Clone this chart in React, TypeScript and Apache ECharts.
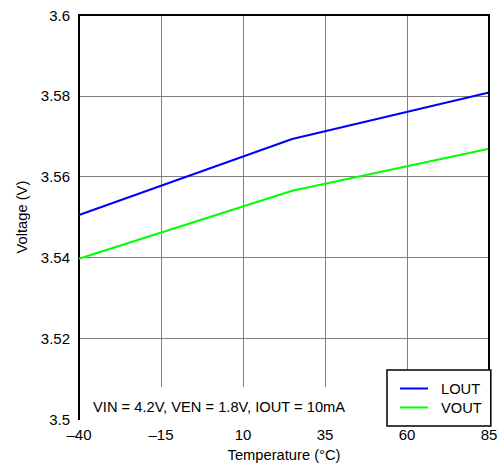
import React, { useEffect, useRef } from "react";
import * as echarts from "echarts";

const temps = [-40, 25, 85];
const lout = [3.5505, 3.5693, 3.5808];
const vout = [3.5397, 3.5565, 3.5669];
const seriesNames = ["LOUT", "VOUT"];
const seriesColors = ["#0000ff", "#00ff00"];
const annotation = "VIN = 4.2V, VEN = 1.8V, IOUT = 10mA";
const xTitle = "Temperature (°C)";
const yTitle = "Voltage (V)";

export default function App() {
  const ref = useRef<HTMLDivElement>(null);
  useEffect(() => {
    if (!ref.current) return;
    const chart = echarts.init(ref.current, null, { renderer: "svg" });
    const font = "'Liberation Sans', Arial, sans-serif";
    const seriesData = [lout, vout];
    const frameAxis = {
      type: "value",
      axisLine: { show: true, onZero: false, lineStyle: { color: "#000", width: 2 } },
      axisTick: { show: false },
      axisLabel: { show: false },
      splitLine: { show: false },
    };
    chart.setOption({
      animation: false,
      backgroundColor: "#fff",
      textStyle: { fontFamily: font },
      grid: {
        left: 79,
        top: 15,
        right: 14,
        bottom: 42,
        show: true,
        borderColor: "#000",
        borderWidth: 2,
        backgroundColor: "transparent",
      },
      xAxis: [
        {
          type: "value",
          min: -40,
          max: 85,
          interval: 25,
          name: xTitle,
          nameLocation: "middle",
          nameGap: 24,
          nameTextStyle: { fontFamily: font, fontSize: 14.7, color: "#000" },
          axisLine: { show: true, onZero: false, lineStyle: { color: "#000", width: 2 } },
          axisTick: { show: false },
          axisLabel: {
            fontFamily: font,
            fontSize: 15,
            color: "#000",
            margin: 8,
            formatter: (v: number) => (v < 0 ? "\u2013" + Math.abs(v) : String(v)),
          },
          splitLine: {
            show: true,
            showMinLine: false,
            showMaxLine: false,
            lineStyle: { color: "#808080", width: 1 },
          },
        },
        { ...frameAxis, position: "top", min: -40, max: 85, interval: 25, z: 10 },
      ],
      yAxis: [
        {
          type: "value",
          min: 3.5,
          max: 3.6,
          interval: 0.02,
          name: yTitle,
          nameLocation: "middle",
          nameGap: 49,
          nameTextStyle: { fontFamily: font, fontSize: 14.7, color: "#000" },
          axisLine: { show: true, onZero: false, lineStyle: { color: "#000", width: 2 } },
          axisTick: { show: false },
          axisLabel: {
            fontFamily: font,
            fontSize: 15,
            color: "#000",
            margin: 9,
            formatter: (v: number) => String(parseFloat(v.toFixed(2))),
          },
          splitLine: {
            show: true,
            showMinLine: false,
            showMaxLine: false,
            lineStyle: { color: "#808080", width: 1 },
          },
        },
        { ...frameAxis, position: "right", min: 3.5, max: 3.6, interval: 0.02, z: 10 },
      ],
      legend: {
        data: seriesNames,
        orient: "vertical",
        left: 387,
        top: 370,
        backgroundColor: "#fff",
        borderColor: "#000",
        borderWidth: 1.5,
        padding: [11, 9, 11, 13],
        itemGap: 4,
        itemWidth: 28,
        itemHeight: 2,
        icon: "rect",
        z: 12,
        textStyle: { fontFamily: font, fontSize: 14.7, color: "#000", lineHeight: 14, padding: [0, 0, 0, 8] },
      },
      graphic: [
        {
          type: "rect",
          shape: { x: 80, y: 387, width: 307, height: 37 },
          style: { fill: "#fff" },
          z: 3,
        },
        {
          type: "text",
          x: 93,
          y: 407,
          style: {
            text: annotation,
            fontFamily: font,
            fontSize: 14.7,
            fill: "#000",
            verticalAlign: "middle",
          },
          z: 4,
        },
      ],
      series: seriesNames.map((name, i) => ({
        name,
        type: "line",
        xAxisIndex: 0,
        yAxisIndex: 0,
        data: temps.map((t, j) => [t, seriesData[i][j]]),
        showSymbol: false,
        symbol: "none",
        lineStyle: { color: seriesColors[i], width: 2 },
        itemStyle: { color: seriesColors[i] },
      })),
    });
    return () => chart.dispose();
  }, []);
  return (
    <div
      ref={ref}
      style={{ position: "fixed", left: 0, top: 0, width: 503, height: 467 }}
    />
  );
}
